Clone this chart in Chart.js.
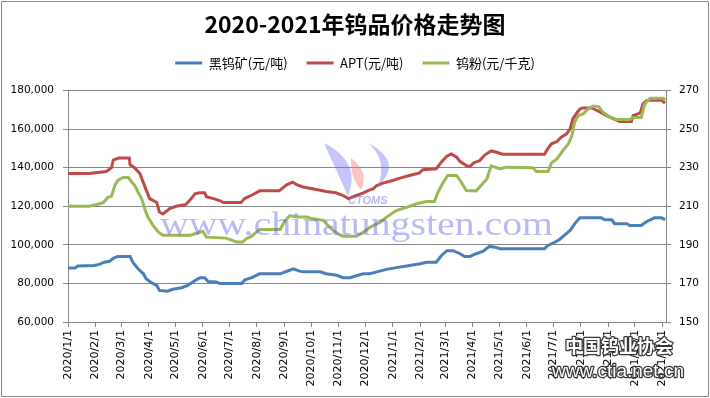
<!DOCTYPE html>
<html>
<head>
<meta charset="utf-8">
<script src="https://cdn.jsdelivr.net/npm/chart.js@4.4.0/dist/chart.umd.min.js"></script>
<style>
  html, body { margin: 0; padding: 0; background: #fff; }
  #wrap { width: 710px; height: 398px; }
</style>
</head>
<body>
<div id="wrap"><canvas id="c" width="710" height="398"></canvas></div>
<script>
// month tick labels on the date axis
const monthLabels = ['2020/1/1','2020/2/1','2020/3/1','2020/4/1','2020/5/1','2020/6/1','2020/7/1','2020/8/1',
  '2020/9/1','2020/10/1','2020/11/1','2020/12/1','2021/1/1','2021/2/1','2021/3/1','2021/4/1','2021/5/1',
  '2021/6/1','2021/7/1','2021/8/1','2021/9/1','2021/10/1','2021/11/1']
const lastDay = '2021/11/5'

// 黑钨矿 (元/吨)
const oreDates = ['2020/1/1','2020/1/9','2020/1/12','2020/1/31','2020/2/6','2020/2/11','2020/2/17','2020/2/21','2020/2/26',
  '2020/3/11','2020/3/14','2020/3/20','2020/3/26','2020/3/29','2020/4/4','2020/4/10','2020/4/13','2020/4/22','2020/4/28',
  '2020/5/8','2020/5/15','2020/5/19','2020/5/25','2020/5/29','2020/6/3','2020/6/7','2020/6/16','2020/6/20','2020/7/15',
  '2020/7/18','2020/7/26','2020/8/4','2020/8/27','2020/9/3','2020/9/11','2020/9/18','2020/9/22','2020/10/11','2020/10/18',
  '2020/10/30','2020/11/6','2020/11/14','2020/11/21','2020/11/29','2020/12/6','2020/12/14','2020/12/25','2021/1/5',
  '2021/1/20','2021/2/1','2021/2/8','2021/2/19','2021/2/25','2021/3/3','2021/3/10','2021/3/18','2021/3/23','2021/3/29',
  '2021/4/5','2021/4/13','2021/4/20','2021/4/26','2021/5/2','2021/6/21','2021/6/25','2021/7/1','2021/7/8','2021/7/14',
  '2021/7/20','2021/7/25','2021/7/31','2021/8/24','2021/8/28','2021/9/5','2021/9/8','2021/9/22','2021/9/25','2021/10/8',
  '2021/10/14','2021/10/23','2021/10/31','2021/11/4']
const orePrices = [88000,88000,89000,89300,90000,91000,91500,93000,94000,
  94000,91000,87600,85000,82400,80400,79000,76400,76000,77000,
  77800,79000,80200,82000,83000,83000,81000,80800,80000,80000,
  81800,83000,85000,85000,86200,87600,86400,86000,86000,85000,
  84200,83000,83000,84000,85000,85000,86000,87300,88200,
  89300,90200,91000,91000,94500,97000,97000,95400,94000,94000,
  95400,96700,99200,98800,98000,98000,99700,101000,102800,105200,
  107500,110900,114000,114000,113000,113000,111000,111000,110000,110000,
  112000,114000,114000,113000]

// APT (元/吨)
const aptDates = ['2020/1/1','2020/1/25','2020/2/13','2020/2/19','2020/2/21','2020/2/27','2020/3/10','2020/3/11','2020/3/16',
  '2020/3/22','2020/3/27','2020/4/2','2020/4/10','2020/4/13','2020/4/17','2020/4/25','2020/5/2','2020/5/13','2020/5/19',
  '2020/5/23','2020/5/28','2020/6/3','2020/6/5','2020/6/13','2020/6/20','2020/6/24','2020/7/14','2020/7/18','2020/7/27',
  '2020/8/4','2020/8/26','2020/9/3','2020/9/10','2020/9/16','2020/9/22','2020/10/7','2020/10/18','2020/10/29','2020/11/6',
  '2020/11/12','2020/11/21','2020/11/29','2020/12/6','2020/12/10','2020/12/14','2020/12/21','2021/1/1','2021/1/9',
  '2021/1/20','2021/1/31','2021/2/4','2021/2/19','2021/2/25','2021/3/3','2021/3/8','2021/3/14','2021/3/18','2021/3/25',
  '2021/3/29','2021/4/2','2021/4/9','2021/4/15','2021/4/22','2021/4/28','2021/5/5','2021/6/21','2021/6/25','2021/6/29',
  '2021/7/5','2021/7/10','2021/7/16','2021/7/20','2021/7/23','2021/7/27','2021/7/31','2021/8/3','2021/8/13','2021/8/17',
  '2021/8/23','2021/8/30','2021/9/7','2021/9/14','2021/9/27','2021/9/29','2021/10/7','2021/10/10','2021/10/14',
  '2021/10/18','2021/10/31','2021/11/4']
const aptPrices = [137000,137000,138000,140000,144000,145000,145000,141500,140000,
  137000,131000,124000,122000,117000,116000,119000,120000,121000,124000,
  126500,127000,127000,125000,124000,123000,122000,122000,124000,126000,
  128000,128000,131000,132500,131000,130000,128700,127700,127000,125600,
  124000,125600,127000,128500,129000,130800,132000,133400,134600,
  136000,137300,139000,139400,143000,146000,147200,145500,143200,141100,
  140600,142500,143700,146700,148700,148000,147000,147000,150000,152400,
  153600,155800,157600,160200,165300,168000,170500,171000,171000,170200,
  168800,167000,165300,164000,164000,167000,168400,173000,174800,
  175000,175000,173500]

// 钨粉 (元/千克), right axis
const powderDates = ['2020/1/1','2020/1/25','2020/2/6','2020/2/10','2020/2/15','2020/2/19','2020/2/23','2020/2/26','2020/3/3',
  '2020/3/9','2020/3/13','2020/3/16','2020/3/20','2020/3/24','2020/3/28','2020/3/31','2020/4/6','2020/4/12','2020/4/17',
  '2020/5/18','2020/5/25','2020/6/1','2020/6/5','2020/6/27','2020/7/9','2020/7/16','2020/7/20','2020/7/26','2020/8/4',
  '2020/8/27','2020/9/1','2020/9/7','2020/9/15','2020/9/26','2020/10/3','2020/10/15','2020/10/20','2020/10/26','2020/11/2',
  '2020/11/6','2020/11/21','2020/11/29','2020/12/6','2020/12/18','2020/12/25','2021/1/5','2021/1/17','2021/1/28','2021/2/8',
  '2021/2/17','2021/2/21','2021/2/27','2021/3/4','2021/3/14','2021/3/18','2021/3/25','2021/4/5','2021/4/11','2021/4/17',
  '2021/4/22','2021/5/2','2021/5/9','2021/6/8','2021/6/12','2021/6/25','2021/6/29','2021/7/5','2021/7/12','2021/7/18',
  '2021/7/22','2021/7/25','2021/7/29','2021/8/4','2021/8/9','2021/8/15','2021/8/21','2021/8/26','2021/9/3','2021/9/10',
  '2021/9/25','2021/9/29','2021/10/8','2021/10/12','2021/10/18','2021/11/2','2021/11/4']
const powderPrices = [210,210,211.3,212,214.7,215.3,221,223.4,225,
  225,222.5,221,217.3,214,208,204.4,200,196.6,195,
  195,196,197,194,193.5,191.5,191.5,193.2,194.5,198,
  198,202,205.2,204.4,204.4,203.5,202.7,200,197.5,195.3,
  194.5,194.5,196.6,199,201.8,204.4,207.8,209.5,211.3,212.5,
  212.5,217.3,222.5,226,226,223.4,218.2,218,221,224.2,
  231,229.4,230.3,230,228,228,232.5,234.6,239,242.4,
  246.7,253.6,257,258,260.5,262,261.7,258.8,256.2,255,
  255,256,256,263,266,266,265]

const toDay = s => {
  const [y, m, d] = s.split('/').map(Number)
  return (Date.UTC(y, m - 1, d) - Date.UTC(2020, 0, 1)) / 864e5
}
const pts = (dates, vals) => dates.map((d, i) => ({ x: toDay(d), y: vals[i] }))
const labelByDay = {}
monthLabels.forEach(l => { labelByDay[toDay(l)] = l })

const gridColor = '#868686'
const tickFont = { family: 'DejaVu Sans', size: 10.5 }

const extras = {
  id: 'extras',
  beforeLayout(chart) {
    // leave some room under the legend, like the original
    const lg = chart.legend
    if (lg && !lg._padded) {
      const fit = lg.fit
      lg.fit = function () { fit.call(this); this.height += 11 }
      lg._padded = true
    }
  },
  afterDatasetsDraw(chart) {
    const ctx = chart.ctx
    ctx.save()
    // site watermark
    ctx.fillStyle = 'rgba(100,100,230,0.45)'
    ctx.font = '34px "Liberation Serif"'
    const txt = 'www.chinatungsten.com'
    const w = ctx.measureText(txt).width
    ctx.translate(160, 235)
    ctx.scale(393 / w, 1)
    ctx.textBaseline = 'alphabetic'
    ctx.fillText(txt, 0, 0)
    ctx.restore()

    // logo flames
    ctx.save()
    ctx.fillStyle = 'rgba(110,110,235,0.4)'
    ctx.beginPath()
    ctx.moveTo(324, 143); ctx.quadraticCurveTo(362, 162, 348, 196); ctx.quadraticCurveTo(336, 170, 324, 143)
    ctx.fill()
    ctx.beginPath()
    ctx.moveTo(368, 143); ctx.quadraticCurveTo(404, 162, 378, 186); ctx.quadraticCurveTo(388, 160, 368, 143)
    ctx.fill()
    ctx.fillStyle = 'rgba(240,110,110,0.4)'
    ctx.beginPath()
    ctx.moveTo(351, 158); ctx.quadraticCurveTo(370, 172, 361, 190); ctx.quadraticCurveTo(350, 178, 351, 158)
    ctx.fill()
    ctx.fillStyle = 'rgba(110,110,235,0.5)'
    ctx.font = 'italic bold 11px "Liberation Sans"'
    ctx.fillText('CTOMS', 348, 201)
    ctx.restore()
  },
  afterDraw(chart) {
    const ctx = chart.ctx
    ctx.save()
    ctx.lineJoin = 'round'
    ctx.strokeStyle = '#333'
    ctx.fillStyle = '#fff'
    ctx.lineWidth = 2.5
    ctx.textBaseline = 'middle'
    ctx.font = 'bold 18px "Noto Sans CJK SC"'
    ctx.strokeText('中国钨业协会', 565, 346)
    ctx.fillText('中国钨业协会', 565, 346)
    ctx.font = '19px "Liberation Sans"'
    ctx.strokeText('www.ctia.net.cn', 552, 372)
    ctx.fillText('www.ctia.net.cn', 552, 372)
    // outer frame
    ctx.strokeStyle = gridColor
    ctx.lineWidth = 1
    ctx.strokeRect(1.5, 1.5, 707, 395)
    ctx.restore()
  }
}

new Chart(document.getElementById('c').getContext('2d'), {
  type: 'line',
  data: {
    datasets: [
      { label: '黑钨矿(元/吨)', data: pts(oreDates, orePrices), yAxisID: 'y',
        borderColor: '#4A7EBB', backgroundColor: '#4A7EBB', order: 0 },
      { label: 'APT(元/吨)', data: pts(aptDates, aptPrices), yAxisID: 'y',
        borderColor: '#BE4B48', backgroundColor: '#BE4B48', order: 2 },
      { label: '钨粉(元/千克)', data: pts(powderDates, powderPrices), yAxisID: 'y1',
        borderColor: '#98B954', backgroundColor: '#98B954', order: 1 }
    ]
  },
  options: {
    responsive: false,
    maintainAspectRatio: false,
    animation: false,
    parsing: false,
    elements: {
      point: { radius: 0 },
      line: { borderWidth: 3, tension: 0, fill: false }
    },
    layout: { padding: { top: 0 } },
    plugins: {
      tooltip: { enabled: false },
      title: {
        display: true,
        text: '2020-2021年钨品价格走势图',
        color: '#000',
        font: { family: '"Noto Sans CJK SC"', size: 23, weight: 'bold' },
        padding: { top: 10, bottom: 0 }
      },
      legend: {
        display: true,
        labels: {
          boxWidth: 27,
          boxHeight: 3,
          padding: 19,
          color: '#000',
          font: { family: '"Noto Sans CJK SC"', size: 13 },
          sort: (a, b) => a.datasetIndex - b.datasetIndex,
          generateLabels(chart) {
            const items = Chart.defaults.plugins.legend.labels.generateLabels(chart)
            items.forEach(it => { it.lineWidth = 0; it.fillStyle = it.strokeStyle })
            return items
          }
        }
      }
    },
    scales: {
      x: {
        type: 'linear',
        min: 0,
        max: toDay(lastDay),
        afterBuildTicks: ax => { ax.ticks = monthLabels.map(l => ({ value: toDay(l) })) },
        afterFit: ax => { ax.height = 76 },
        ticks: {
          autoSkip: false, minRotation: 90, maxRotation: 90, padding: 3,
          color: '#000', font: { family: 'DejaVu Sans', size: 11 },
          callback: v => labelByDay[v] || ''
        },
        grid: { drawOnChartArea: false, color: gridColor, tickLength: 5 },
        border: { color: gridColor }
      },
      y: {
        position: 'left',
        min: 60000, max: 180000,
        afterFit: ax => { ax.width = 68 },
        ticks: { stepSize: 20000, padding: 9, color: '#000', font: tickFont,
          callback: v => v.toLocaleString('en-US') },
        grid: { color: gridColor, tickLength: 5 },
        border: { color: gridColor }
      },
      y1: {
        position: 'right',
        min: 150, max: 270,
        afterFit: ax => { ax.width = 44 },
        ticks: { stepSize: 20, padding: 8, color: '#000', font: tickFont },
        grid: { drawOnChartArea: false, color: gridColor, tickLength: 5 },
        border: { color: gridColor }
      }
    }
  },
  plugins: [extras]
})
</script>
</body>
</html>
